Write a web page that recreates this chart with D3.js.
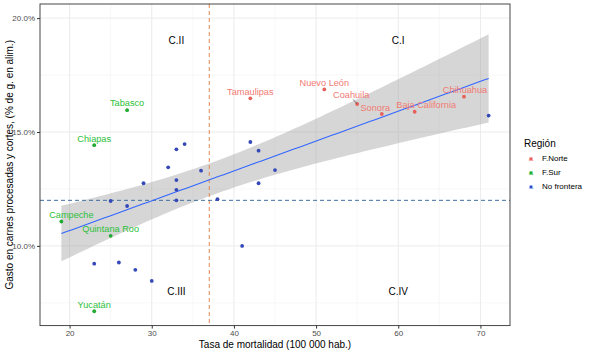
<!DOCTYPE html>
<html>
<head>
<meta charset="utf-8">
<script src="https://cdn.jsdelivr.net/npm/d3@7"></script>
<style>
  body { margin: 0; background: #fff; }
  text { font-family: "Liberation Sans", Arial, sans-serif; }
</style>
</head>
<body>
<div id="chart"></div>
<script>
// states, region, mortality rate (x) and spending share in % (y)
var names = ["Tamaulipas", "Nuevo León", "Coahuila", "Sonora", "Baja California", "Chihuahua",
             "Tabasco", "Chiapas", "Campeche", "Quintana Roo", "Yucatán",
             "", "", "", "", "", "", "", "", "", "", "", "", "", "", "", "", "", "", "", "", ""];
var region = ["F.Norte", "F.Norte", "F.Norte", "F.Norte", "F.Norte", "F.Norte",
              "F.Sur", "F.Sur", "F.Sur", "F.Sur", "F.Sur",
              "No frontera", "No frontera", "No frontera", "No frontera", "No frontera", "No frontera", "No frontera",
              "No frontera", "No frontera", "No frontera", "No frontera", "No frontera", "No frontera", "No frontera",
              "No frontera", "No frontera", "No frontera", "No frontera", "No frontera", "No frontera", "No frontera"];
var mortality = [42, 51, 55, 58, 62, 68,
                 27, 23, 19, 25, 23,
                 29, 33, 34, 32, 33, 33, 33, 36, 38, 42, 43, 43, 45, 25, 27, 23, 26, 28, 30, 41, 71];
var spending = [16.48, 16.87, 16.23, 15.79, 15.89, 16.55,
                15.96, 14.42, 11.07, 10.44, 7.13,
                12.75, 14.24, 14.47, 13.45, 12.89, 12.46, 12.0, 13.30, 12.05, 14.56, 14.18, 12.75, 13.33,
                11.97, 11.75, 9.22, 9.27, 8.95, 8.46, 10.0, 15.72];

var regions = ["F.Norte", "F.Sur", "No frontera"];
var xTicks = [20, 30, 40, 50, 60, 70];
var yTicks = [10, 15, 20];
var refX = 37, refY = 12.0;
var quadrants = [["C.I", 60, 19], ["C.II", 33, 19], ["C.III", 33, 8], ["C.IV", 60, 8]];

// label placement (pixel offsets, repel-like)
var nudge = {
  "Coahuila": [-6, -8.5], "Sonora": [-6.5, -5.7], "Baja California": [11.5, -6.7],
  "Chihuahua": [1, -6.7], "Campeche": [10, -6.7]
};

var W = 589, H = 353;
var panel = {left: 40, right: 510, top: 4, bottom: 325.6};

var pointCol = {"F.Norte": "#e8605a", "F.Sur": "#22aa33", "No frontera": "#3548b8"};
var labelCol = {"F.Norte": "#f27a72", "F.Sur": "#2cbf3a", "No frontera": "#619CFF"};

var svg = d3.select("#chart").append("svg")
    .attr("width", W).attr("height", H);

var x = d3.scaleLinear().domain([16.4, 73.6]).range([panel.left, panel.right]);
var y = d3.scaleLinear().domain([6.5, 20.62]).range([panel.bottom, panel.top]);

// grid
var g = svg.append("g");
var xMinor = [25, 35, 45, 55, 65];
var yMinor = [7.5, 12.5, 17.5];
g.selectAll(".xminor").data(xMinor).enter().append("line")
    .attr("x1", d => x(d)).attr("x2", d => x(d)).attr("y1", panel.top).attr("y2", panel.bottom)
    .attr("stroke", "#f3f3f3").attr("stroke-width", 0.6);
g.selectAll(".yminor").data(yMinor).enter().append("line")
    .attr("y1", d => y(d)).attr("y2", d => y(d)).attr("x1", panel.left).attr("x2", panel.right)
    .attr("stroke", "#f3f3f3").attr("stroke-width", 0.6);
g.selectAll(".xmajor").data(xTicks).enter().append("line")
    .attr("x1", d => x(d)).attr("x2", d => x(d)).attr("y1", panel.top).attr("y2", panel.bottom)
    .attr("stroke", "#ebebeb").attr("stroke-width", 1);
g.selectAll(".ymajor").data(yTicks).enter().append("line")
    .attr("y1", d => y(d)).attr("y2", d => y(d)).attr("x1", panel.left).attr("x2", panel.right)
    .attr("stroke", "#ebebeb").attr("stroke-width", 1);

// linear fit with 95% confidence band
var n = mortality.length;
var mx = d3.mean(mortality), my = d3.mean(spending);
var sxx = d3.sum(mortality, d => (d - mx) * (d - mx));
var sxy = d3.sum(mortality, (d, i) => (d - mx) * (spending[i] - my));
var slope = sxy / sxx, icpt = my - slope * mx;
var sse = d3.sum(mortality, (d, i) => Math.pow(spending[i] - (icpt + slope * d), 2));
var s = Math.sqrt(sse / (n - 2));
var tval = 2.042;
var xs = d3.range(80).map(i => d3.min(mortality) + i * (d3.max(mortality) - d3.min(mortality)) / 79);
var fit = xs.map(function(v) {
  var f = icpt + slope * v;
  var se = s * Math.sqrt(1 / n + (v - mx) * (v - mx) / sxx);
  return {x: v, y: f, lo: f - tval * se, hi: f + tval * se};
});

svg.append("path").datum(fit)
    .attr("d", d3.area().x(d => x(d.x)).y0(d => y(d.lo)).y1(d => y(d.hi)))
    .attr("fill", "#999999").attr("fill-opacity", 0.4);

// reference lines
svg.append("line")
    .attr("x1", x(refX)).attr("x2", x(refX)).attr("y1", panel.top).attr("y2", panel.bottom)
    .attr("stroke", "#e0884e").attr("stroke-width", 1).attr("stroke-dasharray", "4,3");
svg.append("line")
    .attr("x1", panel.left).attr("x2", panel.right).attr("y1", y(refY)).attr("y2", y(refY))
    .attr("stroke", "#3f6f9f").attr("stroke-width", 1).attr("stroke-dasharray", "4,3");

svg.append("path").datum(fit)
    .attr("d", d3.line().x(d => x(d.x)).y(d => y(d.y)))
    .attr("fill", "none").attr("stroke", "#3366FF").attr("stroke-width", 1.1);

// points
var pts = mortality.map((d, i) => ({x: d, y: spending[i], name: names[i], region: region[i]}));

svg.selectAll(".pt").data(pts).enter().append("circle")
    .attr("cx", d => x(d.x)).attr("cy", d => y(d.y)).attr("r", 1.9)
    .attr("fill", d => pointCol[d.region]);

// segment for Coahuila label
var coa = pts.find(d => d.name === "Coahuila");
svg.append("line")
    .attr("x1", x(coa.x)).attr("y1", y(coa.y))
    .attr("x2", x(coa.x) - 4).attr("y2", y(coa.y) - 4.5)
    .attr("stroke", "#555").attr("stroke-width", 0.8);

svg.selectAll(".lab").data(pts.filter(d => d.name !== "")).enter().append("text")
    .attr("x", d => x(d.x) + (nudge[d.name] ? nudge[d.name][0] : 0))
    .attr("y", d => y(d.y) + (nudge[d.name] ? nudge[d.name][1] : -6.7))
    .attr("text-anchor", "middle").attr("dominant-baseline", "central")
    .attr("font-size", 9.2).attr("fill", d => labelCol[d.region])
    .text(d => d.name);

// quadrant labels
svg.selectAll(".quad").data(quadrants).enter().append("text")
    .attr("x", d => x(d[1])).attr("y", d => y(d[2]))
    .attr("text-anchor", "middle").attr("dominant-baseline", "central")
    .attr("font-size", 10).attr("fill", "#000")
    .text(d => d[0]);

// panel border
svg.append("rect")
    .attr("x", panel.left).attr("y", panel.top)
    .attr("width", panel.right - panel.left).attr("height", panel.bottom - panel.top)
    .attr("fill", "none").attr("stroke", "#333333").attr("stroke-width", 0.9);

// axes
var xAxis = svg.append("g")
    .attr("transform", "translate(0," + panel.bottom + ")")
    .call(d3.axisBottom(x).tickValues(xTicks).tickSize(3).tickPadding(2));
var yAxis = svg.append("g")
    .attr("transform", "translate(" + panel.left + ",0)")
    .call(d3.axisLeft(y).tickValues(yTicks).tickSize(3).tickPadding(2)
      .tickFormat(d => d3.format(".1f")(d) + "%"));
[xAxis, yAxis].forEach(function(a) {
  a.select(".domain").remove();
  a.selectAll(".tick line").attr("stroke", "#333");
  a.selectAll(".tick text").attr("fill", "#4d4d4d").attr("font-size", 8)
    .attr("font-family", "Liberation Sans, Arial, sans-serif");
});

svg.append("text")
    .attr("x", (panel.left + panel.right) / 2).attr("y", 348)
    .attr("text-anchor", "middle").attr("font-size", 10).attr("fill", "#000")
    .text("Tasa de mortalidad (100 000 hab.)");
svg.append("text")
    .attr("transform", "translate(13," + ((panel.top + panel.bottom) / 2) + ") rotate(-90)")
    .attr("text-anchor", "middle").attr("font-size", 10).attr("fill", "#000")
    .text("Gasto en carnes procesadas y cortes, (% de g. en alim.)");

// legend
var leg = svg.append("g").attr("transform", "translate(524,0)");
leg.append("text").attr("x", 0).attr("y", 146.5)
    .attr("font-size", 10).attr("fill", "#000").text("Región");
var ly = d3.scalePoint().domain(regions).range([158.5, 186.5]);
regions.forEach(function(r) {
  leg.append("text").attr("x", 7).attr("y", ly(r))
     .attr("text-anchor", "middle").attr("dominant-baseline", "central")
     .attr("font-size", 8).attr("font-weight", "bold").attr("fill", labelCol[r]).attr("fill-opacity", 0.8)
     .text("a");
  leg.append("circle").attr("cx", 7).attr("cy", ly(r) + 0.5).attr("r", 1.3).attr("fill", pointCol[r]);
  leg.append("text").attr("x", 18).attr("y", ly(r))
     .attr("dominant-baseline", "central").attr("font-size", 8).attr("fill", "#000")
     .text(r);
});
</script>
</body>
</html>
